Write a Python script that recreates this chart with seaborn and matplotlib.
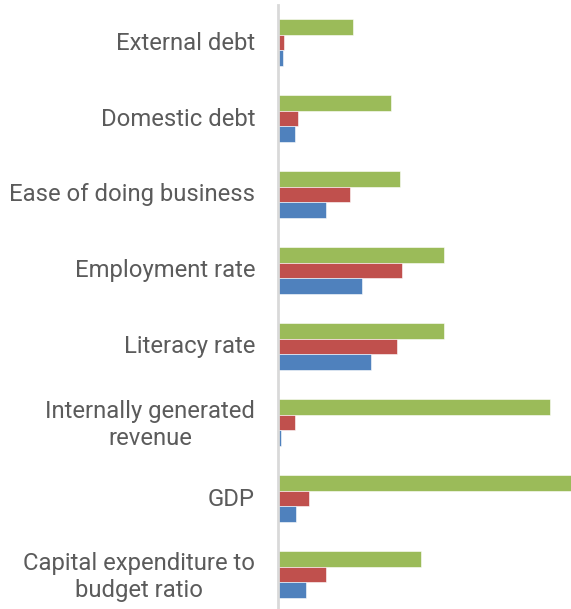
import matplotlib
matplotlib.use("Agg")
import matplotlib.pyplot as plt
import matplotlib.transforms as mtransforms
import seaborn as sns
import pandas as pd

categories = [
    "External debt",
    "Domestic debt",
    "Ease of doing business",
    "Employment rate",
    "Literacy rate",
    "Internally generated\nrevenue",
    "GDP",
    "Capital expenditure to\nbudget ratio",
]
series_names = ["Series 3", "Series 2", "Series 1"]
series3 = [75, 113, 122, 166, 166, 272, 300, 143]
series2 = [6, 20, 72, 124, 119, 17, 31, 48]
series1 = [5, 17, 48, 84, 93, 3, 18, 28]
colors = ["#9BBB59", "#C0504D", "#4F81BD"]

rows = []
for name, vals in zip(series_names, [series3, series2, series1]):
    for cat, v in zip(categories, vals):
        rows.append({"category": cat, "series": name, "value": v})
df = pd.DataFrame(rows)

sns.set_style("white")
plt.rcParams["font.family"] = ["Roboto", "DejaVu Sans"]

fig = plt.figure(figsize=(5.71, 6.09), dpi=100)
ax = fig.add_axes([278 / 571, -3.5 / 609, (571 - 278) / 571, 608 / 609])

sns.barplot(
    data=df, y="category", x="value", hue="series",
    order=categories, hue_order=series_names, palette=colors,
    orient="h", width=0.63, ax=ax, legend=False,
    saturation=1, edgecolor="white", linewidth=0.4,
)

ax.set_xlim(0, 293)
ax.set_ylim(len(categories) - 0.5, -0.5)
ax.set_xlabel("")
ax.set_ylabel("")
ax.set_xticks([])
for side in ["top", "right", "bottom"]:
    ax.spines[side].set_visible(False)
ax.spines["left"].set_color("#D9D9D9")
ax.spines["left"].set_linewidth(2)
ax.tick_params(axis="y", length=0, pad=16.5, labelsize=17.2, labelcolor="#5B5B5B")
lift = mtransforms.ScaledTranslation(0, 2 / 100, fig.dpi_scale_trans)
for lbl in ax.get_yticklabels():
    lbl.set_multialignment("center")
    lbl.set_linespacing(1.2)
    lbl.set_transform(lbl.get_transform() + lift)

fig.savefig("out.png", dpi=100, facecolor="white")
